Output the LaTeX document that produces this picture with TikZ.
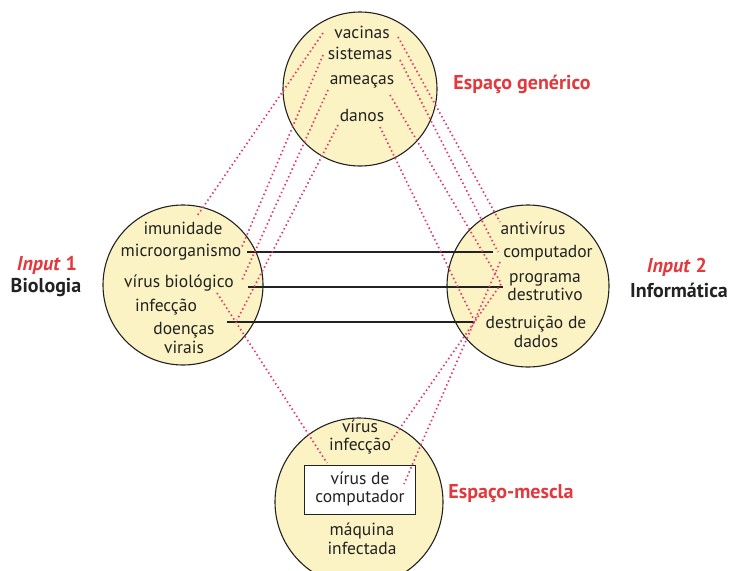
\documentclass[tikz,border=0pt]{standalone}
\usepackage{fontspec}
\setmainfont{PT Sans}
\definecolor{cream}{HTML}{FCF3C4}
\definecolor{ink}{HTML}{222222}
\definecolor{tagred}{HTML}{E3383C}
\definecolor{dotred}{HTML}{E23C6C}
\tikzset{
  zone/.style={circle, draw=ink, fill=cream, line width=1.1pt, inner sep=0pt},
  word/.style={font=\fontsize{17.5}{18.5}\selectfont, text=ink, inner sep=0pt, align=center},
  tag/.style={font=\fontsize{20}{22}\selectfont\bfseries, inner sep=0pt, align=center},
  mapline/.style={draw=dotred, line width=1.7pt, dash pattern=on 1.5pt off 2.8pt},
  link/.style={draw=ink, line width=1.2pt},
  blendbox/.style={draw=ink, fill=white, line width=1.3pt, minimum width=111pt, minimum height=49pt, inner sep=0pt}
}
\begin{document}
\begin{tikzpicture}[x=1pt, y=-1pt]
\useasboundingbox (0,0) rectangle (732,571);
\clip (0,0) rectangle (732,571);

% the four mental spaces
\node[zone, minimum size=154pt] (generic) at (360,89) {};
\node[zone, minimum size=160pt] (bio) at (183,285) {};
\node[zone, minimum size=162pt] (info) at (528,286) {};
\node[zone, minimum size=168pt] (blend) at (359,502) {};
\node[blendbox] (vircomp) at (360,490) {};

% generic space
\node[word] (vacinas) at (362,32) {vacinas};
\node[word] (sistemas) at (360,53) {sistemas};
\node[word] (ameacas) at (362,82) {ameaças};
\node[word] (danos) at (362,115) {danos};

% input 1
\node[word] (imunidade) at (183,228) {imunidade};
\node[word] (microorg) at (181,252) {microorganismo};
\node[word] (virbio) at (179,283) {vírus biológico};
\node[word] (infeccaoA) at (166,307) {infecção};
\node[word] (doencas) at (184,338) {doenças\\virais};

% input 2
\node[word] (antivirus) at (533,228) {antivírus};
\node[word] (computador) at (548,253) {computador};
\node[word] (programa) at (545,287) {programa\\destrutivo};
\node[word] (destruicao) at (536,332) {destruição de\\dados};

% blended space
\node[word] (virinf) at (360,437) {vírus\\infecção};
\node[word] (vircomptxt) at (360,489) {vírus de\\computador};
\node[word] (maquina) at (362,539) {máquina\\infectada};

% space titles
\node[tag, text=tagred] (in1) at (47,265) {\itshape Input\/ \upshape 1};
\node[tag, text=ink] (biologia) at (46,288) {Biologia};
\node[tag, text=tagred] (in2) at (677,267) {\itshape Input\/ \upshape 2};
\node[tag, text=ink] (informatica) at (679,290) {Informática};
\node[tag, text=tagred] (tgen) at (522,84) {Espaço genérico};
\node[tag, text=tagred] (tblend) at (511,494) {Espaço-mescla};

% cross-space mappings
\draw[link] ([shift={(66,0)}]microorg.center) -- ([shift={(-55,-1)}]computador.center);
\draw[link] ([shift={(69,4)}]virbio.center) -- ([shift={(-42,0)}]programa.center);
\draw[link] ([shift={(43,-16)}]doencas.center) -- ([shift={(-61,-10)}]destruicao.center);

% generic space to input 1
\draw[mapline] ([shift={(-39,1)}]vacinas.center) -- ([shift={(14,-12)}]imunidade.center);
\draw[mapline] ([shift={(-37,2)}]sistemas.center) -- ([shift={(60,-3)}]microorg.center);
\draw[mapline] ([shift={(-34,8)}]ameacas.center) -- ([shift={(63,-3)}]virbio.center);
\draw[mapline] ([shift={(-24,10)}]danos.center) -- ([shift={(53,-18)}]doencas.center);

% generic space to input 2
\draw[mapline] ([shift={(36,5)}]vacinas.center) -- ([shift={(-33,-6)}]antivirus.center);
\draw[mapline] ([shift={(40,7)}]sistemas.center) -- ([shift={(-50,-1)}]computador.center);
\draw[mapline] ([shift={(28,13)}]ameacas.center) -- ([shift={(-44,-4)}]programa.center);
\draw[mapline] ([shift={(18,12)}]danos.center) -- ([shift={(-63,-14)}]destruicao.center);

% inputs to the blend
\draw[mapline] ([shift={(38,10)}]virbio.center) -- ([shift={(-33,-27)}]vircomp.center);
\draw[mapline] ([shift={(-48,9)}]computador.center) -- ([shift={(44,-6)}]vircomp.center);
\draw[mapline] ([shift={(-44,-3)}]programa.center) -- ([shift={(31,4)}]virinf.center);
\end{tikzpicture}
\end{document}
